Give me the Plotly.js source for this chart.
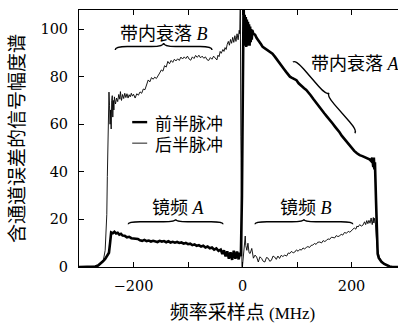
<!DOCTYPE html>
<html>
<head>
<meta charset="utf-8">
<script src="https://cdn.plot.ly/plotly-3.0.1.min.js"></script>
<style>
html,body{margin:0;padding:0;overflow:hidden;background:#fff;}
#chart{width:420px;height:340px;}
</style>
</head>
<body>
<div id="chart"></div>
<script>
// ---- data ----
const thickName = "前半脉冲";
const thinName = "后半脉冲";

const thickX = [-300,-280,-270,-265,-260,-256,-252,-248,-245,-243,-241,-238,-235,-232,-229,-226,-223,-220,-216,-212,-208,-204,-200,-196,-192,-188,-184,-180,-176,-172,-168,-164,-160,-156,-152,-148,-144,-140,-136,-132,-128,-124,-120,-116,-112,-108,-104,-100,-96,-92,-88,-84,-80,-76,-72,-68,-64,-60,-56,-52,-48,-44,-40,-37,-34,-31,-28,-25,-22,-19,-16,-13,-10,-7,-5,-3,-1,1,2,3,4,5,6,7,8,9,10,11,12,13,14,15,16,17,18,20,23,26,30,34,37,40,45,50,55,60,65,68,72,76,80,84,87,90,95,99,103,108,113,117,121,125,130,134,138,142,146,150,155,160,165,170,175,178,182,186,190,196,200,205,210,215,220,225,229,233,236,238,240,241,242,243,245,247,248,250,255,260,265,270,275,300];
const thickY = [0,0,0.2,0.6,1.4,2.4,3.4,4.6,6,10,14.5,14.2,14.8,14.1,14.4,13.6,13.9,13.2,13.1,12.5,12.7,12.1,12.0,11.6,11.8,11.2,11.0,11.4,10.9,11.1,10.7,11.0,10.8,10.5,11.0,10.7,10.9,10.4,10.8,10.3,10.6,10.2,10.5,10.1,10.3,9.8,10.1,9.6,9.8,9.2,9.5,8.9,9.2,8.6,8.9,8.2,8.6,7.9,8.2,7.3,7.8,6.8,7.3,5.5,7.0,4.5,6.6,3.5,6.2,3.0,6.8,3.5,6.5,3.2,6.0,4.5,30,112,112,96,106,93,105,92.5,104,93,103,93.5,102,93,101,94.5,100,95.5,99.5,98,97.6,96.2,94.6,93.6,92.5,92,91.2,90.6,89.6,88.2,86.5,86,84.2,83.2,82,80.8,80,79.6,78.9,78.5,77.2,76,75.1,74.4,73.5,72.2,70.6,69.3,68,66.8,65.6,64.6,63.2,62,60.4,58.9,57.6,56.6,55.2,54,52.9,51.1,50,48.8,47.8,47,46.6,46.1,45.8,45.2,44.5,46,42,46,41,44,28,10,5.5,3.8,2.2,1.3,0.6,0.2,0,0];

const thinX = [-300,-275,-268,-262,-258,-255,-252,-250,-249,-248,-247,-246,-245,-244,-243,-242,-241,-240,-239,-238,-237,-236,-235,-233,-231,-229,-227,-225,-224,-222,-220,-218,-216,-214,-212,-210,-208,-206,-204,-202,-200,-197,-194,-191,-188,-185,-182,-179,-176,-173,-170,-167,-164,-161,-158,-155,-152,-149,-146,-143,-140,-137,-134,-131,-128,-125,-122,-119,-116,-113,-110,-107,-104,-101,-98,-95,-92,-89,-86,-83,-80,-77,-74,-71,-68,-65,-62,-59,-56,-53,-50,-47,-45,-43,-41,-39,-36,-34,-32,-30,-28,-26,-24,-22,-20,-18,-16,-14,-12,-10,-8,-6,-5,-4,-3,-2,-1,0,1,3,4,5,6,8,10,12,14,17,20,23,26,29,32,35,38,41,44,47,50,53,56,59,62,65,68,71,74,77.5,81,84,87,90,93,96,99,102,105,108,111,114,117,120,123,126,129,132,135,138,142,145,148,151,154,157,160,163,166,169,172,175,178,181,184,187,191,194,197,200,202,205,208,210,212,215,218,221,224,226,228,230,232,234,236,238,240,241,242,244,246,248,251,255,260,265,270,275,300];
const thinY = [0,0,0.3,1,2,3.2,7,14,22,38,58,71,73.5,68,60,66,58,70,72,63,70,66,71.5,68.5,71,69.5,72.5,70.5,73.7,70,72.5,70.8,73,71.2,72.8,71,72.4,71.5,73,71.8,72.6,71,72.8,72.2,73.6,73,74.8,74.5,76.5,78.6,77.8,79.6,78.9,79.8,79.2,80.7,81.5,82.8,82.3,84.6,84,86.4,85.4,86.8,86,87.3,86.6,87.5,86.8,88.2,87.4,88.3,87.6,88.6,87.4,86.9,88.3,87.6,88.9,88.1,89,87.9,88.6,87.7,88.3,87.1,86.8,88,87.3,88.6,87.6,87,89,88.4,90.6,89.8,91.4,90.6,92.2,91.4,93.6,94.8,93.2,95.6,94,96.5,94.4,97.2,94.8,98,95.5,99.5,98,112,55,0.5,0.2,0.5,3,9,12.6,13,9,7,10,6,5.7,7.8,3.7,5,4.2,2.1,4.3,3.6,2.4,2.1,4,3.7,2.4,2.8,4.6,4.2,3.2,4.6,3.6,4.9,4.4,5,4.6,5.9,5.7,6.6,5.9,6.3,7.2,6.6,7.4,7.1,8,7.6,8.2,8.6,8.2,9.1,9.2,9.9,9.5,10.4,10.5,10.1,11.1,10.7,11.2,11.8,11.6,12.5,12.4,12.2,13.2,12.8,13,13.8,13.4,14.5,14.2,15,14.6,15.4,15.5,16.4,15.9,17.2,16.8,17.8,17.2,17.6,19,17.8,19.5,18.2,19.6,18.4,20.6,17.8,20.8,18.5,20.5,18,11,7,4.2,2.5,1.5,0.7,0.3,0,0];

const xTickVals = [-300,-200,-100,0,100,200,300];
const xTickText = ["","−200","","0","","200",""];
const yTickVals = [0,20,40,60,80,100];

// ---- geometry helpers (plot area in pixels) ----
const X_RANGE = [-300, 300];
const Y_RANGE = [0, 108];
const FIG_W = 420, FIG_H = 340;
const PLOT_L = 78.7, PLOT_R = 406.3, PLOT_T = 10, PLOT_B = 266.7;
const kx = (PLOT_R - PLOT_L) / (X_RANGE[1] - X_RANGE[0]);
const ky = (PLOT_B - PLOT_T) / (Y_RANGE[1] - Y_RANGE[0]);
const dataX = px => X_RANGE[0] + (px - PLOT_L) / kx;
const dataY = py => Y_RANGE[0] + (PLOT_B - py) / ky;
const paperX = px => (px - PLOT_L) / (PLOT_R - PLOT_L);
const paperY = py => (PLOT_B - py) / (PLOT_B - PLOT_T);

// curly brace between two pixel points, cusp on the left-hand normal (up for left->right)
function brace(p0, p1, h) {
  const dx = p1[0] - p0[0], dy = p1[1] - p0[1], L = Math.hypot(dx, dy);
  const ux = dx / L, uy = dy / L;
  const nx = uy, ny = -ux;
  const P = (t, s) => {
    const X = p0[0] + ux * t + nx * s, Y = p0[1] + uy * t + ny * s;
    return dataX(X).toFixed(3) + "," + dataY(Y).toFixed(3);
  };
  const r = Math.min(12, L / 6);
  const path = `M${P(0,0)} Q${P(0,h/2)} ${P(r,h/2)} L${P(L/2-r,h/2)} Q${P(L/2,h/2)} ${P(L/2,h)} Q${P(L/2,h/2)} ${P(L/2+r,h/2)} L${P(L-r,h/2)} Q${P(L,h/2)} ${P(L,0)}`;
  return {type: "path", xref: "x", yref: "y", path: path, line: {color: "black", width: 1.4}};
}

const SERIF = "Liberation Serif";
const DIGITS = "DejaVu Serif";
const CJK = "Noto Sans CJK SC";
const cjk = (s, size) => `<span style="font-family:${CJK}${size ? ";font-size:" + size + "px" : ""}">${s}</span>`;

const traces = [
  {x: thickX, y: thickY, name: thickName, type: "scatter", mode: "lines",
   line: {color: "black", width: 2.6}},
  {x: thinX, y: thinY, name: thinName, type: "scatter", mode: "lines",
   line: {color: "black", width: 0.9}}
];

const shapes = [
  brace([115, 50], [212, 50], 7),
  brace([128, 224], [223, 224], 5),
  brace([255, 224], [353, 224], 5),
  brace([293, 62], [355, 133], 7),
  {type: "line", xref: "paper", yref: "paper", x0: paperX(132), x1: paperX(147), y0: paperY(122), y1: paperY(122), line: {color: "black", width: 2.4}},
  {type: "line", xref: "paper", yref: "paper", x0: paperX(132), x1: paperX(147), y0: paperY(143), y1: paperY(143), line: {color: "black", width: 0.9}}
];

const annFont = {family: SERIF, size: 18, color: "black"};
const legFont = {family: CJK, size: 17, color: "black"};
const annotations = [
  {x: dataX(164), y: dataY(32), xref: "x", yref: "y", text: cjk("带内衰落") + " <i>B</i>", showarrow: false, font: annFont, xanchor: "center", yanchor: "middle"},
  {x: dataX(309), y: dataY(62), xref: "x", yref: "y", text: cjk("带内衰落") + " <i>A</i>", showarrow: false, font: annFont, xanchor: "left", yanchor: "middle"},
  {x: dataX(150), y: dataY(206), xref: "x", yref: "y", text: cjk("镜频") + " <i>A</i>", showarrow: false, font: annFont, xanchor: "left", yanchor: "middle"},
  {x: dataX(278), y: dataY(206), xref: "x", yref: "y", text: cjk("镜频") + " <i>B</i>", showarrow: false, font: annFont, xanchor: "left", yanchor: "middle"},
  {x: paperX(153), y: paperY(122), xref: "paper", yref: "paper", text: thickName, showarrow: false, font: legFont, xanchor: "left", yanchor: "middle"},
  {x: paperX(153), y: paperY(143), xref: "paper", yref: "paper", text: thinName, showarrow: false, font: legFont, xanchor: "left", yanchor: "middle"}
];

const axisCommon = {
  showline: true, linecolor: "black", linewidth: 1, mirror: "ticks",
  ticks: "inside", ticklen: 5, tickwidth: 1, tickcolor: "black",
  showgrid: false, zeroline: false,
  tickfont: {family: DIGITS, size: 14.5, color: "black"}
};

const layout = {
  width: FIG_W, height: FIG_H,
  margin: {l: PLOT_L, r: FIG_W - PLOT_R, t: PLOT_T, b: FIG_H - PLOT_B},
  paper_bgcolor: "white", plot_bgcolor: "white",
  showlegend: false,
  xaxis: Object.assign({}, axisCommon, {
    range: X_RANGE, tickmode: "array", tickvals: xTickVals, ticktext: xTickText,
    ticklabelstandoff: 6,
    title: {text: cjk("频率采样点", 19) + " (MHz)", font: {family: SERIF, size: 17, color: "black"}, standoff: 13}
  }),
  yaxis: Object.assign({}, axisCommon, {
    range: Y_RANGE, tickmode: "array", tickvals: yTickVals,
    ticklabelstandoff: 7,
    title: {text: "含通道误差的信号幅度谱", font: {family: CJK, size: 19, color: "black"}, standoff: 10}
  }),
  shapes: shapes,
  annotations: annotations
};

Plotly.newPlot("chart", traces, layout, {displayModeBar: false, staticPlot: true});
</script>
</body>
</html>
